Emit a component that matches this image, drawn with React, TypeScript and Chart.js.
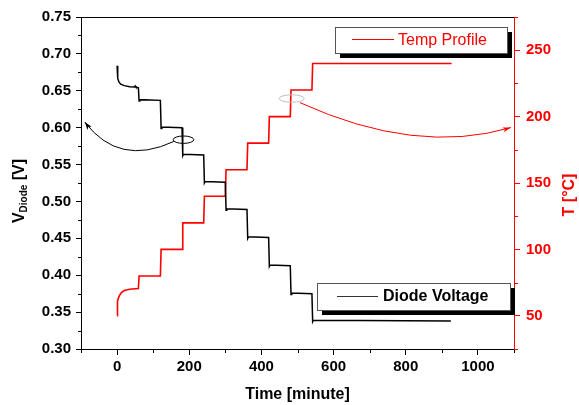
import React, { useEffect, useRef } from "react";
import { Chart, registerables } from "chart.js";

Chart.register(...registerables);

const FONT = "'Liberation Sans', Arial, Helvetica, sans-serif";

// ---- data ----
const voltageTime = [0, 1, 2.5, 5, 10, 20, 35, 48, 50, 52, 59, 61, 63, 120, 122, 124, 180, 182, 184, 240, 242, 244, 300, 302, 304, 360, 362, 364, 420, 422, 424, 480, 482, 484, 540, 542, 544, 925];
const voltageValues = [0.684, 0.675, 0.667, 0.662, 0.659, 0.657, 0.6555, 0.655, 0.6565, 0.655, 0.654, 0.636, 0.638, 0.637, 0.599, 0.601, 0.6, 0.562, 0.564, 0.563, 0.525, 0.527, 0.526, 0.488, 0.49, 0.489, 0.45, 0.452, 0.451, 0.412, 0.414, 0.413, 0.374, 0.376, 0.375, 0.337, 0.339, 0.338];

const tempTime = [0, 0.5, 1, 2, 4, 7, 12, 20, 35, 59, 61, 120, 122, 180, 182, 240, 242, 300, 302, 360, 362, 420, 422, 480, 482, 540, 542, 927];
const tempValues = [50, 55, 58, 61, 63.5, 65.5, 67.5, 69, 70, 70.6, 80, 80, 100, 100, 120, 120, 140, 140, 160, 160, 180, 180, 200, 200, 220, 220, 240, 240];

const xMajorTicks = [0, 200, 400, 600, 800, 1000];
const xMinorTicks = [-100, 100, 300, 500, 700, 900, 1100];
const vMajorTicks = [0.3, 0.35, 0.4, 0.45, 0.5, 0.55, 0.6, 0.65, 0.7, 0.75];
const vMinorTicks = [0.325, 0.375, 0.425, 0.475, 0.525, 0.575, 0.625, 0.675, 0.725];
const tMajorTicks = [50, 100, 150, 200, 250];
const tMinorTicks = [25, 75, 125, 175, 225, 275];

// annotation geometry in data units: [time, value]
const blackEllipse = { t: 184, v: 0.5837, rt: 28.6, rv: 0.005 };
const blackArrow = [[157.3, 0.5813], [4.7, 0.5467], [-89.6, 0.6077]];
const redEllipse = { t: 484, v: 213.6, rt: 34.7, rv: 2.8 };
const redArrow = [[506.8, 210.5], [828.6, 170.8], [1091.3, 191.7]];

const xTitle = "Time [minute]";
const tTitle = "T [°C]";
const legendTemp = "Temp Profile";
const legendVolt = "Diode Voltage";

function drawArrowHead(ctx: CanvasRenderingContext2D, fx: number, fy: number, tx: number, ty: number, color: string) {
  const ang = Math.atan2(ty - fy, tx - fx);
  const len = 8, half = 2.6;
  ctx.save();
  ctx.fillStyle = color;
  ctx.translate(tx, ty);
  ctx.rotate(ang);
  ctx.beginPath();
  ctx.moveTo(0, 0);
  ctx.lineTo(-len, -half);
  ctx.lineTo(-len * 0.75, 0);
  ctx.lineTo(-len, half);
  ctx.closePath();
  ctx.fill();
  ctx.restore();
}

const decorPlugin = {
  id: "decor",
  afterDraw(chart: any) {
    const ctx: CanvasRenderingContext2D = chart.ctx;
    const { left, right, top, bottom } = chart.chartArea;
    const xs = chart.scales.x, ys = chart.scales.y, ts = chart.scales.y1;
    ctx.save();
    // top frame
    ctx.strokeStyle = "#000";
    ctx.lineWidth = 1;
    ctx.beginPath();
    ctx.moveTo(left, Math.round(top) + 0.5);
    ctx.lineTo(right, Math.round(top) + 0.5);
    ctx.stroke();

    // minor ticks
    const L = Math.round(left) + 0.5, R = Math.round(right) + 0.5, B = Math.round(bottom) + 0.5;
    ctx.beginPath();
    xMinorTicks.forEach((v) => {
      const px = Math.round(xs.getPixelForValue(v)) + 0.5;
      ctx.moveTo(px, B);
      ctx.lineTo(px, B + 3.5);
    });
    vMinorTicks.forEach((v) => {
      const py = Math.round(ys.getPixelForValue(v)) + 0.5;
      ctx.moveTo(L, py);
      ctx.lineTo(L - 3.5, py);
    });
    ctx.stroke();
    ctx.strokeStyle = "#ff0000";
    ctx.beginPath();
    tMinorTicks.forEach((v) => {
      const py = Math.round(ts.getPixelForValue(v)) + 0.5;
      ctx.moveTo(R, py);
      ctx.lineTo(R + 3.5, py);
    });
    ctx.stroke();

    // titles
    ctx.fillStyle = "#000";
    ctx.font = `bold 16px ${FONT}`;
    ctx.textAlign = "center";
    ctx.textBaseline = "middle";
    ctx.fillText(xTitle, (left + right) / 2, 395);

    // left title V_Diode [V]
    ctx.save();
    ctx.translate(18, 191);
    ctx.rotate(-Math.PI / 2);
    ctx.textBaseline = "alphabetic";
    ctx.textAlign = "left";
    const bigF = `bold 16px ${FONT}`;
    const smallF = `bold 10px ${FONT}`;
    ctx.font = bigF;
    const wV = ctx.measureText("V").width;
    const wB = ctx.measureText(" [V]").width;
    ctx.font = smallF;
    const wD = ctx.measureText("Diode").width;
    const total = wV + wD + wB;
    let cx = -total / 2;
    const base = 6;
    ctx.font = bigF;
    ctx.fillText("V", cx, base);
    cx += wV;
    ctx.font = smallF;
    ctx.fillText("Diode", cx, base + 3);
    cx += wD;
    ctx.font = bigF;
    ctx.fillText(" [V]", cx, base);
    ctx.restore();

    // right title
    ctx.save();
    ctx.translate(570, 195);
    ctx.rotate(-Math.PI / 2);
    ctx.fillStyle = "#ff0000";
    ctx.font = `bold 16px ${FONT}`;
    ctx.textAlign = "center";
    ctx.textBaseline = "middle";
    ctx.fillText(tTitle, 0, 0);
    ctx.restore();

    // annotations: black
    ctx.lineWidth = 1;
    ctx.strokeStyle = "#000";
    const bex = xs.getPixelForValue(blackEllipse.t), bey = ys.getPixelForValue(blackEllipse.v);
    const berx = Math.abs(xs.getPixelForValue(blackEllipse.t + blackEllipse.rt) - bex);
    const bery = Math.abs(ys.getPixelForValue(blackEllipse.v + blackEllipse.rv) - bey);
    ctx.beginPath();
    ctx.ellipse(bex, bey, berx, bery, 0, 0, Math.PI * 2);
    ctx.stroke();
    const bp = blackArrow.map(([t, v]) => [xs.getPixelForValue(t), ys.getPixelForValue(v)]);
    ctx.beginPath();
    ctx.moveTo(bp[0][0], bp[0][1]);
    ctx.quadraticCurveTo(bp[1][0], bp[1][1], bp[2][0], bp[2][1]);
    ctx.stroke();
    drawArrowHead(ctx, bp[1][0], bp[1][1], bp[2][0], bp[2][1], "#000");

    // annotations: red
    ctx.strokeStyle = "#c0c0c0";
    const rex = xs.getPixelForValue(redEllipse.t), rey = ts.getPixelForValue(redEllipse.v);
    const rerx = Math.abs(xs.getPixelForValue(redEllipse.t + redEllipse.rt) - rex);
    const rery = Math.abs(ts.getPixelForValue(redEllipse.v + redEllipse.rv) - rey);
    ctx.beginPath();
    ctx.ellipse(rex, rey, rerx, rery, 0, 0, Math.PI * 2);
    ctx.stroke();
    ctx.strokeStyle = "#ff0000";
    const rp = redArrow.map(([t, v]) => [xs.getPixelForValue(t), ts.getPixelForValue(v)]);
    ctx.beginPath();
    ctx.moveTo(rp[0][0], rp[0][1]);
    ctx.quadraticCurveTo(rp[1][0], rp[1][1], rp[2][0], rp[2][1]);
    ctx.stroke();
    drawArrowHead(ctx, rp[1][0], rp[1][1], rp[2][0], rp[2][1], "#ff0000");

    // legend boxes
    const box = (x: number, y: number, w: number, h: number) => {
      ctx.fillStyle = "#000";
      ctx.fillRect(x + 5, y + 5, w, h);
      ctx.fillStyle = "#fff";
      ctx.fillRect(x, y, w, h);
      ctx.strokeStyle = "#555";
      ctx.lineWidth = 1;
      ctx.strokeRect(x + 0.5, y + 0.5, w, h);
    };
    box(335, 27, 172, 26);
    ctx.strokeStyle = "#ff0000";
    ctx.lineWidth = 1.2;
    ctx.beginPath();
    ctx.moveTo(352, 39.5);
    ctx.lineTo(394, 39.5);
    ctx.stroke();
    ctx.fillStyle = "#ff0000";
    ctx.font = `16px ${FONT}`;
    ctx.textAlign = "left";
    ctx.textBaseline = "middle";
    ctx.fillText(legendTemp, 398, 40.5);

    box(317, 283, 193, 27);
    ctx.strokeStyle = "#333";
    ctx.lineWidth = 1.2;
    ctx.beginPath();
    ctx.moveTo(337, 296.5);
    ctx.lineTo(378, 296.5);
    ctx.stroke();
    ctx.fillStyle = "#000";
    ctx.font = `bold 16px ${FONT}`;
    ctx.fillText(legendVolt, 383, 297);

    ctx.restore();
  },
};

export default function App() {
  const ref = useRef<HTMLCanvasElement | null>(null);
  useEffect(() => {
    if (!ref.current) return;
    const tickFont = { family: FONT, size: 15, weight: "bold" as const };
    const chart = new Chart(ref.current, {
      type: "line",
      data: {
        datasets: [
          {
            label: legendVolt,
            data: voltageTime.map((t, i) => ({ x: t, y: voltageValues[i] })),
            borderColor: "#000",
            borderWidth: 1.5,
            pointRadius: 0,
            tension: 0,
            yAxisID: "y",
          },
          {
            label: legendTemp,
            data: tempTime.map((t, i) => ({ x: t, y: tempValues[i] })),
            borderColor: "#ff0000",
            borderWidth: 1.6,
            pointRadius: 0,
            tension: 0,
            yAxisID: "y1",
          },
        ],
      },
      options: {
        responsive: false,
        animation: false,
        layout: { padding: { top: 17, left: 0, right: 0, bottom: 0 } },
        plugins: { legend: { display: false }, tooltip: { enabled: false } },
        scales: {
          x: {
            type: "linear",
            position: "bottom",
            min: -100,
            max: 1100,
            afterBuildTicks: (s: any) => {
              s.ticks = xMajorTicks.map((v) => ({ value: v }));
            },
            afterFit: (s: any) => {
              s.height = 56;
            },
            grid: { drawOnChartArea: false, drawTicks: true, tickLength: 6, color: "#000" },
            border: { display: true, color: "#000", width: 1 },
            ticks: { color: "#000", font: tickFont, padding: 3, maxRotation: 0, autoSkip: false, callback: (v: any) => String(v) },
          },
          y: {
            type: "linear",
            position: "left",
            min: 0.3,
            max: 0.75,
            afterBuildTicks: (s: any) => {
              s.ticks = vMajorTicks.map((v) => ({ value: v }));
            },
            afterFit: (s: any) => {
              s.width = 81;
            },
            grid: { drawOnChartArea: false, drawTicks: true, tickLength: 5, color: "#000" },
            border: { display: true, color: "#000", width: 1 },
            ticks: { color: "#000", font: tickFont, padding: 5, autoSkip: false, callback: (v: any) => Number(v).toFixed(2) },
          },
          y1: {
            type: "linear",
            position: "right",
            min: 25,
            max: 275,
            afterBuildTicks: (s: any) => {
              s.ticks = tMajorTicks.map((v) => ({ value: v }));
            },
            afterFit: (s: any) => {
              s.width = 65;
            },
            grid: { drawOnChartArea: false, drawTicks: true, tickLength: 6, color: "#ff0000" },
            border: { display: true, color: "#ff0000", width: 1 },
            ticks: { color: "#ff0000", font: tickFont, padding: 6, autoSkip: false, callback: (v: any) => String(v) },
          },
        },
      },
      plugins: [decorPlugin],
    });
    return () => chart.destroy();
  }, []);
  return (
    <div style={{ position: "fixed", left: 0, top: 0, width: 579, height: 405, background: "#fff" }}>
      <canvas ref={ref} width={579} height={405} style={{ display: "block" }} />
    </div>
  );
}
